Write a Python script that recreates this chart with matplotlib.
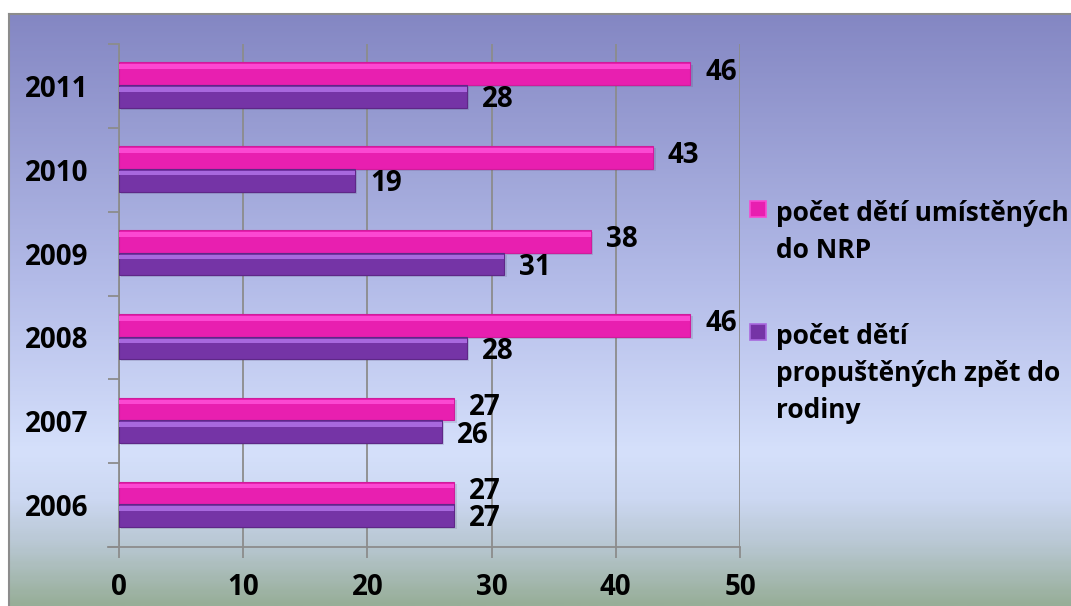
import numpy as np
import matplotlib.pyplot as plt
from matplotlib.colors import LinearSegmentedColormap
from matplotlib.patches import Rectangle

years = ['2006', '2007', '2008', '2009', '2010', '2011']
umisteni = [27, 27, 46, 38, 43, 46]      # počet dětí umístěných do NRP
propusteni = [27, 26, 28, 31, 19, 28]    # počet dětí propuštěných zpět do rodiny
legend_labels = ['počet dětí umístěných\ndo NRP',
                 'počet dětí\npropuštěných zpět do\nrodiny']

pink = '#e81fb0'
pink_hi = '#fb48d2'
pink_lo = '#cf1c9c'
purple = '#7534a6'
purple_hi = '#a868de'
purple_lo = '#5f2788'

plt.rcParams['font.family'] = ['Open Sans', 'DejaVu Sans']
plt.rcParams['font.weight'] = 'bold'
fs = 20
fs_leg = 19

W, H = 1071, 606
fig = plt.figure(figsize=(W / 100, H / 100), dpi=100)
fig.patch.set_facecolor('white')

# background gradient of the chart area
bg = fig.add_axes([9 / W, 0, 1 - 9 / W, 1 - 14 / H], zorder=0)
grad = LinearSegmentedColormap.from_list('bg', [
    (0.0, '#8487c3'), (0.45, '#b3bbe8'), (0.74, '#d5e0fb'),
    (0.82, '#ccd8f2'), (0.9, '#b8c7d2'), (1.0, '#97ae98')])
bg.imshow(np.linspace(0, 1, 300).reshape(-1, 1), aspect='auto', cmap=grad,
          extent=[0, 1, 0, 1])
bg.set_xlim(0, 1)
bg.set_ylim(0, 1)
bg.set_xticks([])
bg.set_yticks([])
for s in bg.spines.values():
    s.set_color('#8c8c8c')
    s.set_linewidth(1.5)
bg.spines['right'].set_visible(False)
bg.spines['bottom'].set_visible(False)

ax = fig.add_axes([119 / W, 1 - 547 / H, (740 - 119) / W, (547 - 44) / H], zorder=1)
ax.patch.set_alpha(0)

y = np.arange(len(years)) + 0.5
h = 0.27
yp = y + 0.145
yv = y - 0.125

# soft shadows
ax.barh(yp - 0.025, umisteni, height=h, left=0.2, color='#3c3c60', alpha=0.15, zorder=2)
ax.barh(yv - 0.025, propusteni, height=h, left=0.2, color='#3c3c60', alpha=0.15, zorder=2)

# main bars with a light bevel on top
ax.barh(yp, umisteni, height=h, color=pink, edgecolor=pink_lo, linewidth=0.8, zorder=3)
ax.barh(yp + h * 0.31, umisteni, height=h * 0.2, color=pink_hi, linewidth=0, zorder=4)
ax.barh(yv, propusteni, height=h, color=purple, edgecolor=purple_lo, linewidth=0.8, zorder=3)
ax.barh(yv + h * 0.31, propusteni, height=h * 0.2, color=purple_hi, linewidth=0, zorder=4)

for yy, v in zip(yp, umisteni):
    ax.text(v + 1.2, yy + 0.02, str(v), ha='left', va='center', fontsize=fs,
            fontweight='bold', color='black', zorder=5)
for yy, v in zip(yv, propusteni):
    ax.text(v + 1.2, yy - 0.04, str(v), ha='left', va='center', fontsize=fs,
            fontweight='bold', color='black', zorder=5)

ax.set_xlim(0, 50)
ax.set_ylim(0, 6)
ax.set_xticks(range(0, 51, 10))
ax.set_xticklabels([str(t) for t in range(0, 51, 10)], fontsize=fs, fontweight='bold')
ax.set_yticks(y)
ax.set_yticklabels(years, fontsize=fs, fontweight='bold')
ax.set_yticks(np.arange(0, 7), minor=True)
ax.tick_params(axis='y', which='major', length=0, pad=22)
ax.tick_params(axis='y', which='minor', length=8, width=1.3, color='#8c8c8c', direction='out')
ax.tick_params(axis='x', which='major', length=8, width=1.3, color='#8c8c8c', pad=11)
ax.grid(axis='x', color='#8c8c8c', linewidth=1.3, zorder=1)
ax.set_axisbelow(True)
for s in ['top', 'right']:
    ax.spines[s].set_visible(False)
for s in ['left', 'bottom']:
    ax.spines[s].set_color('#8c8c8c')
    ax.spines[s].set_linewidth(1.3)
ax.spines['bottom'].set_bounds(-0.9, 50)

# legend drawn by hand: (label, colour, edge, text top px, marker top px)
leg_items = [(legend_labels[0], pink, pink_hi, 200, 201),
             (legend_labels[1], purple, purple_hi, 323, 324)]
for label, c, chi, ty, my in leg_items:
    fig.patches.append(Rectangle((750 / W, 1 - (my + 16) / H), 16 / W, 16 / H,
                                 transform=fig.transFigure, facecolor=c,
                                 edgecolor=chi, linewidth=1.2, zorder=3))
    fig.text(776 / W, 1 - ty / H, label, ha='left', va='top', fontsize=fs_leg,
             fontweight='bold', color='black', linespacing=1.47, zorder=3)

fig.savefig('out.png', dpi=100, facecolor=fig.get_facecolor())
